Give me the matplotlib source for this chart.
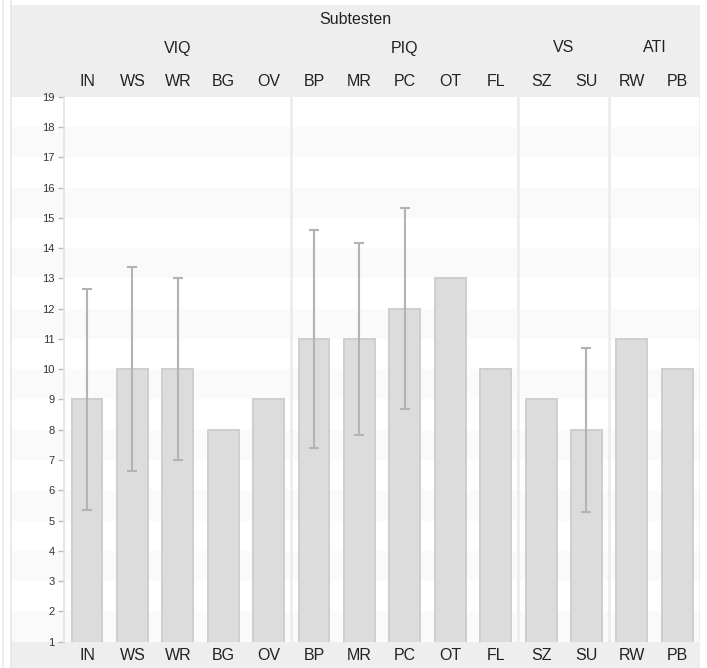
import numpy as np
import matplotlib
matplotlib.use("Agg")
import matplotlib.pyplot as plt
from matplotlib.patches import Rectangle
import matplotlib.transforms as mtransforms

plt.rcParams['font.family'] = ['Liberation Sans', 'DejaVu Sans']

# ---- data ----
categories = ["IN", "WS", "WR", "BG", "OV", "BP", "MR", "PC", "OT", "FL", "SZ", "SU", "RW", "PB"]
values = [9, 10, 10, 8, 9, 11, 11, 12, 13, 10, 9, 8, 11, 10]
errors = [3.66, 3.37, 3.0, np.nan, np.nan, 3.61, 3.18, 3.31, np.nan, np.nan, np.nan, 2.71, np.nan, np.nan]
groups = ["VIQ", "PIQ", "VS", "ATI"]
group_sizes = [5, 5, 2, 2]
header_title = "Subtesten"
y_ticks = list(range(1, 20))

W, H = 707, 668
fig = plt.figure(figsize=(W / 100, H / 100), dpi=100)
ax_l, ax_r, ax_t, ax_b = 64.3, 700.0, 96.7, 641.7
ax = fig.add_axes([ax_l / W, (H - ax_b) / H, (ax_r - ax_l) / W, (ax_b - ax_t) / H])
ax.set_facecolor("white")

n = len(categories)
x = np.arange(n)
ax.set_xlim(-0.5, n - 0.5)
ax.set_ylim(y_ticks[0], y_ticks[-1])

ax_w_px = ax_r - ax_l
ax_h_px = ax_b - ax_t
left_ext = (11 - ax_l) / ax_w_px

# stripes
for y0 in y_ticks[:-1]:
    if y0 % 2 == 1:
        ax.axhspan(y0, y0 + 1, xmin=left_ext, xmax=1, color="#fafafa", zorder=0,
                   clip_on=False, lw=0)

# group separators
bounds = np.cumsum(group_sizes)
for b in bounds:
    ax.axvline(b - 0.5, color="#ebebeb", lw=1.8, zorder=0.5)

# bars
ax.bar(x, values, width=0.68, bottom=0, color="#dcdcdc", edgecolor="#cecece",
       linewidth=1.4, zorder=2)
ax.errorbar(x, values, yerr=errors, fmt="none", ecolor="#b3b3b3", elinewidth=1.5,
            capsize=3.3, capthick=1.5, zorder=3)

# axes styling
for s in ["top", "right", "bottom"]:
    ax.spines[s].set_visible(False)
ax.spines["left"].set_color("#e2e2e2")
ax.spines["left"].set_linewidth(1.2)
ax.set_yticks(y_ticks)
ax.set_yticklabels([str(t) for t in y_ticks])
ax.tick_params(axis="y", labelsize=8, labelcolor="#333333", color="#bbbbbb",
               length=4, width=1, pad=3)
ax.set_xticks([])

# header and footer bands (axes coords)
top_h = (ax_t - 5) / ax_h_px
bot_h = (H - ax_b) / ax_h_px
ax.add_patch(Rectangle((left_ext, 1), 1 - left_ext, top_h, transform=ax.transAxes,
                       color="#eeeeee", clip_on=False, zorder=1, lw=0))
ax.add_patch(Rectangle((left_ext, -bot_h), 1 - left_ext, bot_h, transform=ax.transAxes,
                       color="#eeeeee", clip_on=False, zorder=1, lw=0))

trans = mtransforms.blended_transform_factory(ax.transData, ax.transAxes)

def ay(py):
    return 1 + (ax_t - py) / ax_h_px

lab_kw = dict(ha="center", va="center", fontsize=11.5, color="#222222", clip_on=False, zorder=5)
for i, c in enumerate(categories):
    ax.text(i, ay(81), c, transform=trans, **lab_kw)
    ax.text(i, ay(656), c, transform=trans, **lab_kw)

start = 0
for g, sz in zip(groups, group_sizes):
    ax.text(start + (sz - 1) / 2, ay(48), g, transform=trans, **lab_kw)
    start += sz

ax.text((left_ext + 1) / 2, ay(19), header_title, transform=ax.transAxes, **lab_kw)

# left edge artifacts
fig.add_artist(plt.Line2D([11 / W, 11 / W], [0, 1], color="#e6e6e6", lw=1.2))
fig.add_artist(plt.Line2D([3 / W, 3 / W], [0, 1], color="#eeeeee", lw=1.5))

fig.savefig("out.png", dpi=100)
